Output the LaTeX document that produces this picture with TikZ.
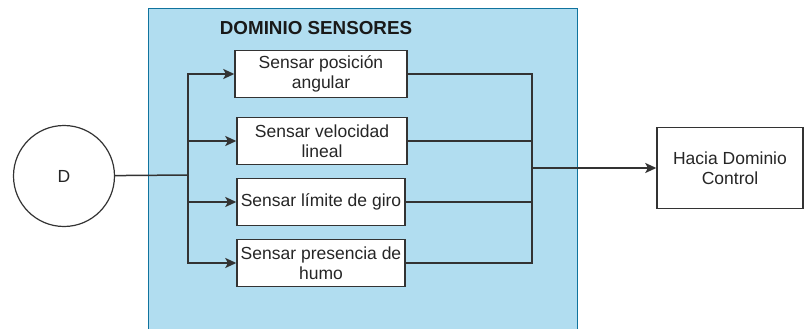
\documentclass[tikz,border=0pt]{standalone}
\usepackage{fontspec}
\setmainfont{Liberation Sans}
\usetikzlibrary{arrows.meta}
\definecolor{domfill}{HTML}{B1DDF0}
\definecolor{domline}{HTML}{10739E}
\definecolor{ln}{HTML}{333333}
\begin{document}
\begin{tikzpicture}[x=1pt,y=-1pt,
  sensorbox/.style={draw=ln,fill=white,line width=1.4pt,minimum height=47pt,align=center,inner sep=0pt,font=\fontsize{17.5}{20}\selectfont,text=black!85},
  conn/.style={draw=ln,line width=1.5pt},
  arr/.style={conn,-{Stealth[length=11pt,width=10pt,inset=2.5pt]}}]
\useasboundingbox (0,0) rectangle (804,329);
\fill[white] (0,0) rectangle (804,329);
\node[draw=domline,fill=domfill,line width=1pt,minimum width=429pt,minimum height=335pt,inner sep=0pt,anchor=north west] (dom) at (148,8) {};
\node[font=\bfseries\fontsize{18.8}{20}\selectfont,text=black!90] (title) at (316,28) {DOMINIO SENSORES};
\node[draw=ln,line width=1.2pt,circle,minimum size=101pt,inner sep=0pt,font=\fontsize{17.5}{20}\selectfont,text=black!85] (D) at (64,176) {D};
\node[sensorbox,minimum width=172pt] (b1) at (321,74) {Sensar posición\\angular};
\node[sensorbox,minimum width=170pt] (b2) at (322,141) {Sensar velocidad\\lineal};
\node[sensorbox,minimum width=168pt] (b3) at (321,202) {Sensar límite de giro};
\node[sensorbox,minimum width=168pt] (b4) at (321,263) {Sensar presencia de\\humo};
\node[draw=ln,fill=white,line width=1.4pt,minimum width=146pt,minimum height=81pt,inner sep=0pt,align=center,font=\fontsize{17.5}{20}\selectfont,text=black!85] (H) at (730,168) {Hacia Dominio\\Control};
\coordinate (j1) at (188,175);
\coordinate (j2) at (532,168);
\draw[conn] (D) -- (j1);
\draw[arr] (j1) |- (b1.west);
\draw[arr] (j1) |- (b2.west);
\draw[arr] (j1) |- (b3.west);
\draw[arr] (j1) |- (b4.west);
\draw[conn] (b1.east) -| (j2);
\draw[conn] (b2.east) -| (j2);
\draw[conn] (b3.east) -| (j2);
\draw[conn] (b4.east) -| (j2);
\draw[arr] (j2) -- (H.west);
\end{tikzpicture}
\end{document}
